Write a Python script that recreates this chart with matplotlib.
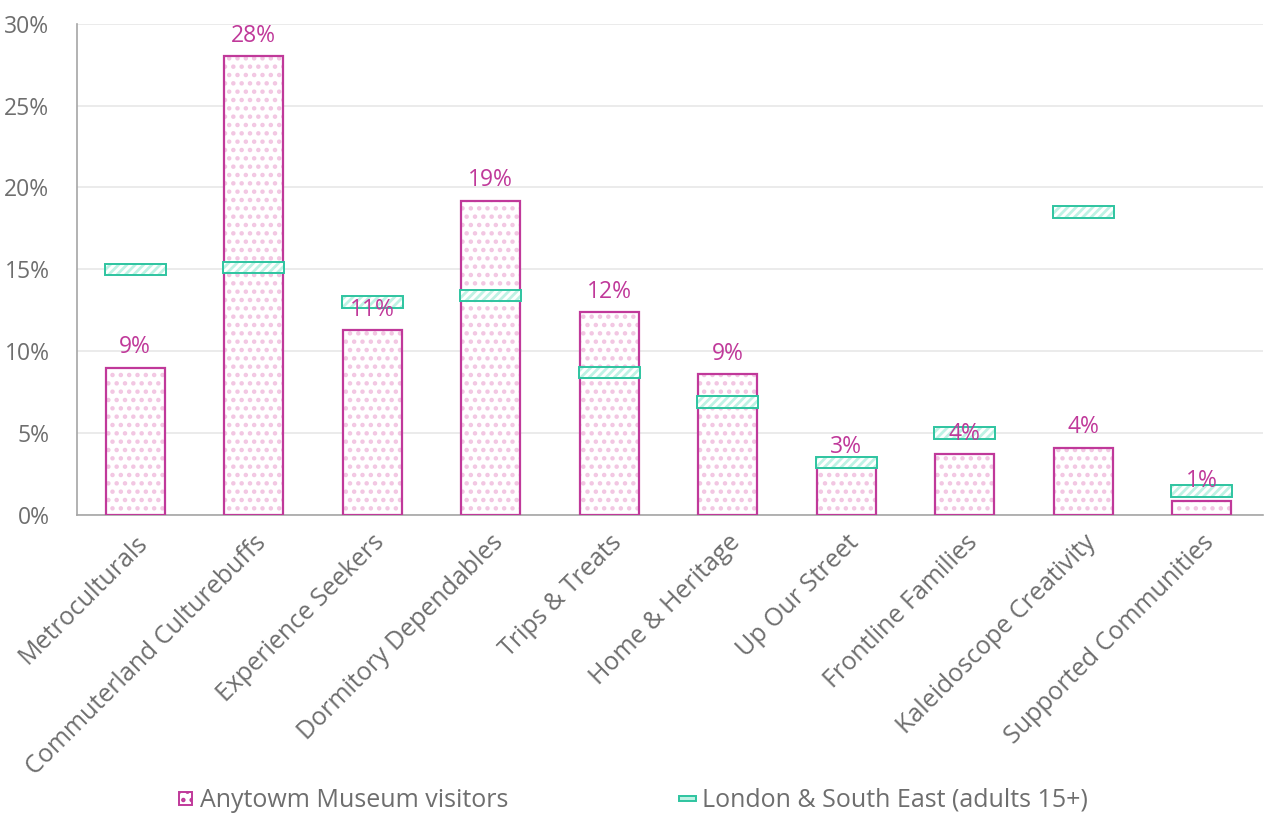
import matplotlib
matplotlib.use("Agg")
import matplotlib.pyplot as plt
from matplotlib.patches import Patch, Rectangle
from matplotlib.legend_handler import HandlerPatch
import numpy as np

plt.rcParams['font.family'] = ['Open Sans', 'DejaVu Sans']
plt.rcParams['hatch.linewidth'] = 2.0

categories = ["Metroculturals", "Commuterland Culturebuffs", "Experience Seekers",
              "Dormitory Dependables", "Trips & Treats", "Home & Heritage",
              "Up Our Street", "Frontline Families", "Kaleidoscope Creativity",
              "Supported Communities"]
museum = [9.0, 28.0, 11.3, 19.2, 12.4, 8.6, 2.9, 3.7, 4.1, 0.85]
london = [15.0, 15.1, 13.0, 13.4, 8.7, 6.9, 3.2, 5.0, 18.5, 1.45]
labels = ["9%", "28%", "11%", "19%", "12%", "9%", "3%", "4%", "4%", "1%"]
yticks = [0, 5, 10, 15, 20, 25, 30]

MAG = "#C0399A"
PINK = "#F2C6E2"
TEAL = "#2EC4A0"
LTEAL = "#BFF2E4"
GRAY = "#6E6E6E"
FS = 16.5
FS_TXT = 18

fig = plt.figure(figsize=(12.66, 8.16), dpi=100)
ax = fig.add_axes([0.061, 0.369, 0.937, 0.602])
x = np.arange(len(categories))
w = 0.5

ax.bar(x, museum, width=w, color="white", edgecolor=PINK, hatch="..", linewidth=0, zorder=2)
ax.bar(x, museum, width=w, fill=False, edgecolor=MAG, linewidth=1.6, zorder=3)

mh = 0.7
lb = [v - mh / 2 for v in london]
ax.bar(x, [mh] * len(x), bottom=lb, width=w * 1.03, color="white", edgecolor=LTEAL,
       hatch="////", linewidth=0, zorder=4)
ax.bar(x, [mh] * len(x), bottom=lb, width=w * 1.03, fill=False, edgecolor=TEAL,
       linewidth=1.4, zorder=5)

for xi, v, t in zip(x, museum, labels):
    ax.annotate(t, (xi, v), xytext=(0, 6), textcoords="offset points",
                ha="center", va="bottom", color=MAG, fontsize=FS, zorder=6)

ax.set_xlim(-0.49, 9.52)
ax.set_ylim(0, 30)
ax.set_yticks(yticks)
ax.set_yticklabels([f"{t}%" for t in yticks], fontsize=FS, color=GRAY)
ax.yaxis.grid(True, color="#E8E8E8", linewidth=1.2, zorder=0)
ax.set_axisbelow(True)
ax.tick_params(axis="y", length=0, pad=20)
ax.tick_params(axis="x", length=0, pad=11)
ax.set_xticks(x)
ax.set_xticklabels(categories, rotation=45, ha="right", rotation_mode="anchor",
                   fontsize=FS_TXT, color=GRAY)
for s in ["top", "right"]:
    ax.spines[s].set_visible(False)
ax.spines["left"].set_color("#A6A6A6")
ax.spines["bottom"].set_color("#A6A6A6")
ax.spines["left"].set_linewidth(1.2)
ax.spines["bottom"].set_linewidth(1.2)


class SquareHandler(HandlerPatch):
    def create_artists(self, legend, orig_handle, xdescent, ydescent, width, height, fontsize, trans):
        s = height * 0.7
        p = Rectangle((-xdescent + (width - s) / 2, -ydescent + (height - s) / 2), s, s,
                      facecolor="white", edgecolor=MAG, hatch="..", linewidth=1.4,
                      transform=trans)
        return [p]


class FlatHandler(HandlerPatch):
    def create_artists(self, legend, orig_handle, xdescent, ydescent, width, height, fontsize, trans):
        h = height * 0.28
        p = Rectangle((-xdescent, -ydescent + (height - h) / 2), width, h,
                      facecolor=LTEAL, edgecolor=TEAL, linewidth=1.4, transform=trans)
        return [p]


h1 = Patch(facecolor="white", edgecolor=MAG)
h2 = Patch(facecolor="white", edgecolor=TEAL)
leg = fig.legend([h1, h2], ["Anytowm Museum visitors", "London & South East (adults 15+)"],
                 loc="center", bbox_to_anchor=(0.4995, 0.019), ncol=2, frameon=False,
                 fontsize=FS_TXT, handlelength=0.7, handleheight=0.75, handletextpad=0.25,
                 columnspacing=6.8,
                 handler_map={h1: SquareHandler(), h2: FlatHandler()})
for t in leg.get_texts():
    t.set_color(GRAY)

fig.savefig("out.png", dpi=100)
